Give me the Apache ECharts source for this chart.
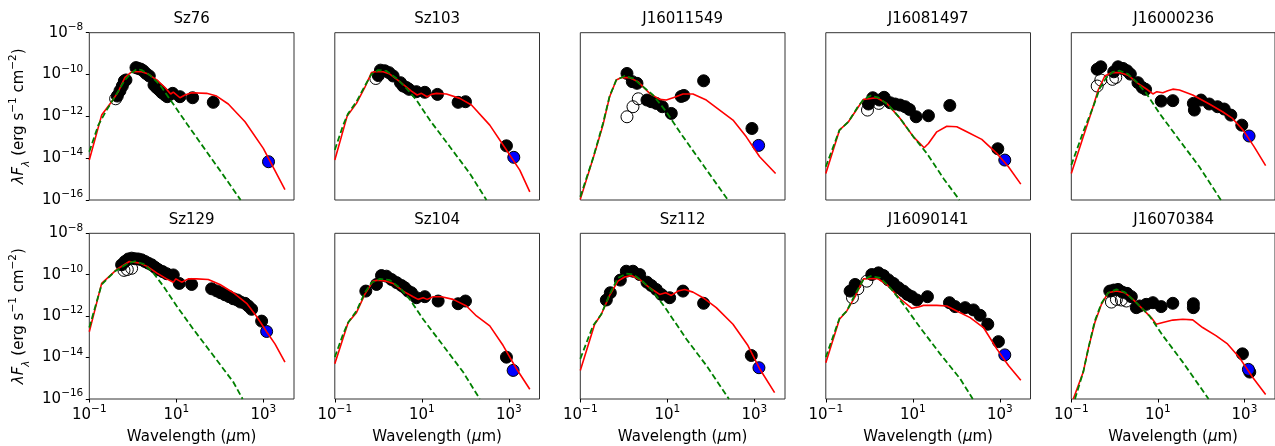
<!DOCTYPE html>
<html><head><meta charset="utf-8">
<script src="https://cdn.jsdelivr.net/npm/echarts@6/dist/echarts.min.js"></script>
<style>html,body{margin:0;padding:0;background:#fff}#c{width:1275px;height:446px}</style>
</head><body><div id="c"></div>
<script>
// Every pair is [log10(wavelength / um), log10(lambda F_lambda / erg s^-1 cm^-2)]
const titles = ['Sz76','Sz103','J16011549','J16081497','J16000236','Sz129','Sz104','Sz112','J16090141','J16070384'];
const xTicks = [-1, 1, 3];
const yTicks = [-16, -14, -12, -10, -8];

// ---- Sz76
const sz76_filled = [[-0.356,-11.03],[-0.295,-10.78],[-0.241,-10.55],[-0.195,-10.31],[-0.157,-10.26],[0.073,-9.67],[0.126,-9.71],[0.18,-9.74],[0.241,-9.82],[0.303,-9.95],[0.379,-10.07],[0.487,-10.5],[0.548,-10.63],[0.609,-10.74],[0.67,-10.87],[0.74,-10.98],[0.793,-11.06],[0.916,-10.9],[1.084,-11.06],[1.375,-11.11],[1.85,-11.33]];
const sz76_open = [[-0.395,-11.16]];
const sz76_mm = [[3.12,-14.17]];
const sz76_model = [[-1,-14.09],[-0.716,-11.94],[-0.487,-11.3],[-0.333,-10.82],[-0.18,-10.14],[-0.027,-9.87],[0.203,-9.87],[0.356,-9.98],[0.548,-10.26],[0.74,-10.62],[0.87,-10.93],[0.931,-10.84],[1.084,-11.11],[1.2,-10.98],[1.353,-10.87],[1.697,-10.9],[1.927,-11.03],[2.195,-11.41],[2.58,-12.26],[3.0,-13.53],[3.498,-15.5]];
const sz76_star = [[-1,-13.69],[-0.793,-12.42],[-0.602,-11.7],[-0.41,-11.06],[-0.18,-10.26],[-0.027,-9.91],[0.088,-9.75],[0.203,-9.79],[0.395,-10.03],[0.625,-10.5],[0.893,-11.3],[1.238,-12.34],[1.697,-13.69],[2.08,-14.81],[2.479,-16.0]];

// ---- Sz103
const sz103_filled = [[0.0,-10.05],[0.05,-9.79],[0.149,-9.82],[0.249,-9.91],[0.341,-10.07],[0.51,-10.39],[0.571,-10.55],[0.648,-10.62],[0.709,-10.71],[0.877,-10.82],[1.069,-10.85],[1.36,-10.95],[1.835,-11.33],[2.004,-11.3],[2.946,-13.41]];
const sz103_open = [[-0.057,-10.19]];
const sz103_mm = [[3.115,-13.96]];
const sz103_model = [[-1,-14.09],[-0.716,-11.99],[-0.502,-11.38],[-0.31,-10.62],[-0.157,-9.91],[-0.08,-9.87],[0.111,-9.87],[0.264,-9.98],[0.494,-10.34],[0.762,-10.79],[0.893,-10.98],[0.992,-10.9],[1.123,-11.06],[1.222,-10.95],[1.337,-10.9],[1.567,-10.93],[1.874,-11.14],[2.142,-11.46],[2.563,-12.42],[2.946,-13.61],[3.253,-14.57],[3.483,-15.61]];
const sz103_star = [[-1,-13.61],[-0.808,-12.42],[-0.693,-11.86],[-0.502,-11.3],[-0.31,-10.55],[-0.157,-9.98],[-0.004,-9.79],[0.188,-9.83],[0.418,-10.18],[0.648,-10.66],[0.877,-11.22],[1.184,-12.18],[1.644,-13.45],[2.103,-14.73],[2.487,-16.0]];

// ---- J16011549
const j16011549_filled = [[0.073,-9.95],[0.195,-10.34],[0.303,-10.42],[0.533,-11.22],[0.632,-11.3],[0.747,-11.38],[0.885,-11.54],[1.092,-11.86],[1.32,-11.05],[1.38,-11.0],[1.835,-10.3],[2.946,-12.58]];
const j16011549_open = [[0.073,-12.02],[0.211,-11.54],[0.333,-11.16]];
const j16011549_mm = [[3.1,-13.39]];
const j16011549_model = [[-1,-15.97],[-0.67,-13.77],[-0.479,-12.42],[-0.326,-11.06],[-0.172,-10.26],[-0.057,-10.14],[0.134,-10.15],[0.326,-10.34],[0.594,-10.9],[0.824,-11.19],[0.977,-11.22],[1.169,-11.09],[1.36,-10.93],[1.59,-10.93],[1.897,-11.22],[2.203,-11.7],[2.51,-12.18],[2.816,-12.98],[3.123,-13.93],[3.49,-14.73]];
const j16011549_star = [[-1,-15.85],[-0.709,-14.01],[-0.479,-12.34],[-0.326,-11.03],[-0.172,-10.26],[0.019,-10.07],[0.211,-10.18],[0.441,-10.58],[0.671,-10.98],[0.977,-11.78],[1.284,-12.74],[1.743,-14.09],[2.395,-16.0]];

// ---- J16081497
const j16081497_filled = [[-0.019,-11.41],[0.08,-11.11],[0.234,-11.22],[0.341,-11.09],[0.479,-11.35],[0.594,-11.41],[0.709,-11.46],[0.824,-11.54],[0.923,-11.67],[1.077,-12.02],[1.36,-11.97],[1.851,-11.48],[2.954,-13.55]];
const j16081497_open = [[-0.042,-11.7],[0.218,-11.38]];
const j16081497_mm = [[3.115,-14.09]];
const j16081497_model = [[-1,-14.73],[-0.686,-12.66],[-0.479,-12.26],[-0.249,-11.54],[-0.134,-11.19],[0.172,-11.11],[0.402,-11.38],[0.709,-12.1],[1.015,-12.98],[1.261,-13.5],[1.36,-13.3],[1.552,-12.74],[1.782,-12.47],[2.011,-12.5],[2.241,-12.74],[2.586,-13.1],[2.931,-13.77],[3.199,-14.41],[3.483,-15.24]];
const j16081497_star = [[-1,-14.41],[-0.686,-12.66],[-0.479,-12.26],[-0.287,-11.62],[-0.134,-11.19],[0.034,-11.01],[0.211,-11.11],[0.441,-11.46],[0.709,-12.1],[1.015,-12.98],[1.322,-13.77],[1.705,-14.97],[2.073,-16.0]];

// ---- J16000236
const j16000236_filled = [[-0.402,-9.75],[-0.318,-9.63],[-0.019,-9.87],[0.08,-9.63],[0.195,-9.71],[0.287,-9.82],[0.364,-9.98],[0.54,-10.39],[0.64,-10.62],[0.716,-10.71],[1.077,-11.27],[1.345,-11.25],[1.82,-11.38],[1.843,-11.7],[1.996,-11.22],[2.188,-11.41],[2.379,-11.54],[2.533,-11.65],[2.686,-11.94],[2.939,-12.42]];
const j16000236_open = [[-0.402,-10.55],[-0.318,-10.26],[-0.05,-10.23],[0.027,-10.14]];
const j16000236_mm = [[3.107,-12.94]];
const j16000236_model = [[-1,-14.73],[-0.724,-12.98],[-0.533,-11.78],[-0.379,-10.74],[-0.226,-10.07],[-0.073,-9.91],[0.119,-9.9],[0.31,-10.03],[0.54,-10.42],[0.77,-10.74],[0.885,-10.93],[0.977,-10.82],[1.115,-10.87],[1.23,-10.78],[1.345,-10.7],[1.498,-10.74],[1.805,-10.98],[2.188,-11.41],[2.494,-11.78],[2.724,-12.1],[2.969,-12.66],[3.222,-13.45],[3.49,-14.36]];
const j16000236_star = [[-1,-14.33],[-0.724,-12.74],[-0.494,-11.54],[-0.341,-10.66],[-0.188,-10.14],[-0.034,-9.87],[0.119,-9.82],[0.31,-9.98],[0.502,-10.34],[0.732,-10.9],[1.038,-11.86],[1.498,-13.14],[1.958,-14.41],[2.456,-16.0]];

// ---- Sz129
const sz129_filled = [[-0.257,-9.52],[-0.18,-9.36],[-0.103,-9.24],[-0.027,-9.2],[0.05,-9.23],[0.126,-9.24],[0.203,-9.28],[0.28,-9.36],[0.356,-9.44],[0.433,-9.52],[0.51,-9.64],[0.586,-9.75],[0.686,-9.85],[0.778,-9.95],[0.931,-10.01],[1.069,-10.42],[1.353,-10.47],[1.812,-10.68],[1.927,-10.78],[2.019,-10.87],[2.119,-10.97],[2.218,-11.06],[2.31,-11.16],[2.402,-11.22],[2.479,-11.32],[2.579,-11.38],[2.655,-11.51],[2.732,-11.67],[2.962,-12.24]];
const sz129_open = [[-0.203,-9.79],[-0.126,-9.75],[-0.027,-9.69]];
const sz129_mm = [[3.077,-12.74]];
const sz129_model = [[-1,-12.75],[-0.716,-10.42],[-0.372,-9.75],[-0.08,-9.36],[0.165,-9.44],[0.356,-9.63],[0.548,-9.91],[0.778,-10.2],[0.931,-10.36],[0.992,-10.2],[1.123,-10.36],[1.276,-10.2],[1.467,-10.2],[1.736,-10.23],[2.004,-10.47],[2.31,-10.87],[2.617,-11.38],[2.847,-12.02],[3.077,-12.75],[3.268,-13.34],[3.498,-14.22]];
const sz129_star = [[-1,-12.55],[-0.716,-10.47],[-0.41,-9.83],[-0.103,-9.44],[0.05,-9.36],[0.241,-9.47],[0.471,-9.91],[0.701,-10.55],[1.008,-11.51],[1.391,-12.63],[1.851,-13.9],[2.31,-15.18],[2.525,-16.0]];

// ---- Sz104
const sz104_filled = [[-0.287,-10.79],[-0.042,-10.47],[0.073,-10.04],[0.188,-10.07],[0.303,-10.23],[0.42,-10.38],[0.533,-10.52],[0.609,-10.63],[0.686,-10.79],[0.762,-10.87],[0.877,-11.11],[1.069,-11.06],[1.376,-11.27],[1.835,-11.4],[2.004,-11.27],[2.946,-13.98]];
const sz104_open = [];
const sz104_mm = [[3.1,-14.62]];
const sz104_model = [[-1,-14.3],[-0.693,-12.31],[-0.502,-11.83],[-0.31,-10.95],[-0.119,-10.31],[-0.004,-10.26],[0.188,-10.31],[0.341,-10.42],[0.571,-10.79],[0.801,-11.06],[0.916,-11.19],[1.031,-11.11],[1.123,-11.19],[1.261,-11.06],[1.452,-11.06],[1.72,-11.19],[2.027,-11.51],[2.257,-11.99],[2.563,-12.47],[2.87,-13.42],[3.176,-14.54],[3.483,-15.53]];
const sz104_star = [[-1,-13.98],[-0.808,-12.86],[-0.693,-12.31],[-0.502,-11.75],[-0.31,-10.87],[-0.157,-10.39],[0.034,-10.2],[0.264,-10.26],[0.494,-10.63],[0.724,-11.19],[1.031,-12.15],[1.49,-13.42],[1.95,-14.7],[2.333,-16.0]];

// ---- Sz112
const sz112_filled = [[-0.402,-11.22],[-0.31,-10.87],[-0.08,-10.26],[0.057,-9.83],[0.211,-9.83],[0.364,-9.99],[0.533,-10.36],[0.632,-10.52],[0.747,-10.71],[0.862,-10.95],[1.054,-11.11],[1.36,-10.79],[1.835,-11.38],[2.931,-13.9]];
const sz112_open = [];
const sz112_mm = [[3.107,-14.49]];
const sz112_model = [[-1,-14.62],[-0.67,-12.39],[-0.517,-11.91],[-0.326,-11.0],[-0.134,-10.31],[0.019,-10.11],[0.172,-10.04],[0.364,-10.23],[0.594,-10.63],[0.824,-10.95],[0.962,-10.87],[1.092,-11.0],[1.245,-10.79],[1.398,-10.71],[1.59,-10.84],[1.82,-11.11],[2.126,-11.59],[2.51,-12.39],[2.854,-13.42],[3.123,-14.54],[3.467,-15.69]];
const sz112_star = [[-1,-14.06],[-0.709,-12.47],[-0.517,-11.91],[-0.326,-10.95],[-0.134,-10.15],[0.057,-9.95],[0.211,-9.99],[0.402,-10.26],[0.671,-10.79],[0.977,-11.67],[1.437,-13.1],[1.897,-14.38],[2.418,-16.0]];

// ---- J16090141
const j16090141_filled = [[-0.441,-10.79],[-0.326,-10.47],[0.057,-9.99],[0.211,-9.91],[0.326,-10.04],[0.44,-10.25],[0.556,-10.42],[0.671,-10.63],[0.785,-10.79],[0.877,-10.95],[0.977,-11.06],[1.092,-11.22],[1.337,-11.06],[1.843,-11.35],[1.973,-11.54],[2.203,-11.59],[2.395,-11.7],[2.548,-11.96],[2.724,-12.39],[2.969,-13.23]];
const j16090141_open = [[-0.387,-11.11],[-0.264,-10.68],[-0.057,-10.31]];
const j16090141_mm = [[3.115,-13.87]];
const j16090141_model = [[-1,-14.25],[-0.686,-12.15],[-0.517,-11.75],[-0.326,-11.06],[-0.134,-10.2],[0.188,-10.18],[0.402,-10.47],[0.709,-11.16],[0.977,-11.62],[1.13,-11.56],[1.245,-11.48],[1.552,-11.48],[1.782,-11.51],[2.011,-11.75],[2.318,-12.07],[2.625,-12.55],[2.931,-13.58],[3.199,-14.38],[3.483,-15.1]];
const j16090141_star = [[-1,-13.98],[-0.686,-12.11],[-0.517,-11.75],[-0.326,-10.95],[-0.134,-10.23],[0.034,-10.07],[0.249,-10.15],[0.479,-10.63],[0.785,-11.43],[1.169,-12.55],[1.628,-13.82],[2.088,-15.02],[2.379,-16.0]];

// ---- J16070384
const j16070384_filled = [[-0.111,-10.79],[-0.019,-10.74],[0.08,-10.71],[0.18,-10.84],[0.287,-10.9],[0.387,-11.06],[0.502,-11.59],[0.579,-11.51],[0.732,-11.43],[0.885,-11.35],[1.077,-11.54],[1.345,-11.38],[1.82,-11.4],[1.82,-11.59],[2.954,-13.82],[3.123,-14.7]];
const j16070384_open = [[-0.073,-11.32],[0.042,-11.19],[0.157,-11.22],[0.272,-11.27]];
const j16070384_mm = [[3.092,-14.57]];
const j16070384_model = [[-0.954,-16.0],[-0.724,-14.7],[-0.609,-13.58],[-0.456,-12.31],[-0.303,-11.43],[-0.149,-10.87],[0.042,-10.79],[0.234,-10.87],[0.425,-11.19],[0.655,-11.67],[0.847,-12.07],[0.962,-12.39],[1.115,-12.31],[1.345,-12.19],[1.575,-12.15],[1.805,-12.18],[2.034,-12.55],[2.341,-12.94],[2.609,-13.34],[2.877,-13.98],[3.184,-14.94],[3.49,-15.78]];
const j16070384_star = [[-0.916,-16.0],[-0.724,-14.7],[-0.609,-13.58],[-0.456,-12.23],[-0.303,-11.38],[-0.149,-10.87],[0.042,-10.71],[0.234,-10.84],[0.502,-11.35],[0.808,-11.99],[1.115,-12.94],[1.575,-14.22],[2.172,-16.0]];

const panels = [
  [sz76_filled, sz76_open, sz76_mm, sz76_model, sz76_star],
  [sz103_filled, sz103_open, sz103_mm, sz103_model, sz103_star],
  [j16011549_filled, j16011549_open, j16011549_mm, j16011549_model, j16011549_star],
  [j16081497_filled, j16081497_open, j16081497_mm, j16081497_model, j16081497_star],
  [j16000236_filled, j16000236_open, j16000236_mm, j16000236_model, j16000236_star],
  [sz129_filled, sz129_open, sz129_mm, sz129_model, sz129_star],
  [sz104_filled, sz104_open, sz104_mm, sz104_model, sz104_star],
  [sz112_filled, sz112_open, sz112_mm, sz112_model, sz112_star],
  [j16090141_filled, j16090141_open, j16090141_mm, j16090141_model, j16090141_star],
  [j16070384_filled, j16070384_open, j16070384_mm, j16070384_model, j16070384_star]
];

// ---- layout
const FONT = 'DejaVu Sans';
const colLeft = [89.3, 334.8, 580.3, 825.8, 1071.3];
const rowTop = [32.7, 233.3];
const W = 204.7, H = 167.3;
const XMIN = -1, XMAX = 3.706, YMIN = -16, YMAX = -8;
const DOT = 12;

const supRich = {
  b: {fontSize: 15, fontFamily: FONT, color: '#000', lineHeight: 22},
  s: {fontSize: 10.5, fontFamily: FONT, color: '#000', verticalAlign: 'top', lineHeight: 12}
};
function powLabel(v) {
  const r = Math.round(v);
  const s = r < 0 ? '\u2212' + Math.abs(r) : String(r);
  return '{b|10}{s|' + s + '}';
}
const yNameRich = {
  it: {fontSize: 15, fontFamily: FONT, fontStyle: 'italic', color: '#000', lineHeight: 24},
  sub: {fontSize: 10.5, fontFamily: FONT, fontStyle: 'italic', color: '#000', verticalAlign: 'bottom', lineHeight: 13},
  n: {fontSize: 15, fontFamily: FONT, color: '#000', lineHeight: 24},
  sup: {fontSize: 10.5, fontFamily: FONT, color: '#000', verticalAlign: 'top', lineHeight: 12}
};
const xNameRich = {
  n: {fontSize: 15, fontFamily: FONT, color: '#000'},
  it: {fontSize: 15, fontFamily: FONT, fontStyle: 'italic', color: '#000'}
};

const grids = [], xAxes = [], yAxes = [], series = [], titleList = [];
panels.forEach((p, i) => {
  const row = Math.floor(i / 5), col = i % 5;
  grids.push({left: colLeft[col], top: rowTop[row], width: W, height: H, show: true,
    borderColor: '#333', borderWidth: 1, backgroundColor: '#fff', containLabel: false});
  titleList.push({text: titles[i], left: colLeft[col] + W / 2, top: rowTop[row] - 21, textAlign: 'center', padding: 0,
    textStyle: {fontSize: 15, fontWeight: 'normal', fontFamily: FONT, color: '#000'}});
  const bottomRow = row === 1, firstCol = col === 0;
  xAxes.push({gridIndex: i, type: 'value', min: XMIN, max: XMAX,
    splitLine: {show: false}, axisLine: {show: false, onZero: false},
    axisTick: {show: bottomRow, customValues: xTicks, length: 3.5, lineStyle: {color: '#000', width: 1}},
    axisLabel: {show: bottomRow, customValues: xTicks, formatter: powLabel, rich: supRich, margin: 5},
    name: bottomRow ? '{n|Wavelength (}{it|\u03bc}{n|m)}' : '',
    nameLocation: 'middle', nameGap: 31, nameTextStyle: {rich: xNameRich, fontSize: 15, fontFamily: FONT, color: '#000'}});
  yAxes.push({gridIndex: i, type: 'value', min: YMIN, max: YMAX,
    splitLine: {show: false}, axisLine: {show: false, onZero: false},
    axisTick: {show: firstCol, customValues: yTicks, length: 3.5, lineStyle: {color: '#000', width: 1}},
    axisLabel: {show: firstCol, customValues: yTicks, formatter: powLabel, rich: supRich, margin: 6},
    name: firstCol ? '{it|\u03bbF}{sub|\u03bb}{n| (erg s}{sup|\u22121}{n| cm}{sup|\u22122}{n|)}' : '',
    nameLocation: 'middle', nameRotate: 90, nameGap: 58,
    nameTextStyle: {rich: yNameRich, fontSize: 15, fontFamily: FONT, color: '#000'}});
  const [filled, open, mm, model, star] = p;
  series.push({type: 'scatter', xAxisIndex: i, yAxisIndex: i, data: open, symbol: 'circle', symbolSize: DOT, z: 2,
    itemStyle: {color: 'rgba(255,255,255,0)', borderColor: '#000', borderWidth: 1, opacity: 1}, silent: true});
  series.push({type: 'scatter', xAxisIndex: i, yAxisIndex: i, data: filled, symbol: 'circle', symbolSize: DOT, z: 3,
    itemStyle: {color: '#000', borderColor: '#000', borderWidth: 1, opacity: 1}, silent: true});
  series.push({type: 'scatter', xAxisIndex: i, yAxisIndex: i, data: mm, symbol: 'circle', symbolSize: DOT, z: 4,
    itemStyle: {color: '#0000ff', borderColor: '#000', borderWidth: 1, opacity: 1}, silent: true});
  series.push({type: 'line', xAxisIndex: i, yAxisIndex: i, data: model, showSymbol: false, z: 5, clip: true,
    lineStyle: {color: '#ff0000', width: 1.6}, silent: true});
  series.push({type: 'line', xAxisIndex: i, yAxisIndex: i, data: star, showSymbol: false, z: 6, clip: true,
    lineStyle: {color: '#008000', width: 1.8, type: [6, 3]}, silent: true});
});

const chart = echarts.init(document.getElementById('c'), null, {renderer: 'canvas'});
chart.setOption({
  animation: false,
  backgroundColor: '#fff',
  title: titleList,
  grid: grids,
  xAxis: xAxes,
  yAxis: yAxes,
  series: series
});
</script>
</body></html>
